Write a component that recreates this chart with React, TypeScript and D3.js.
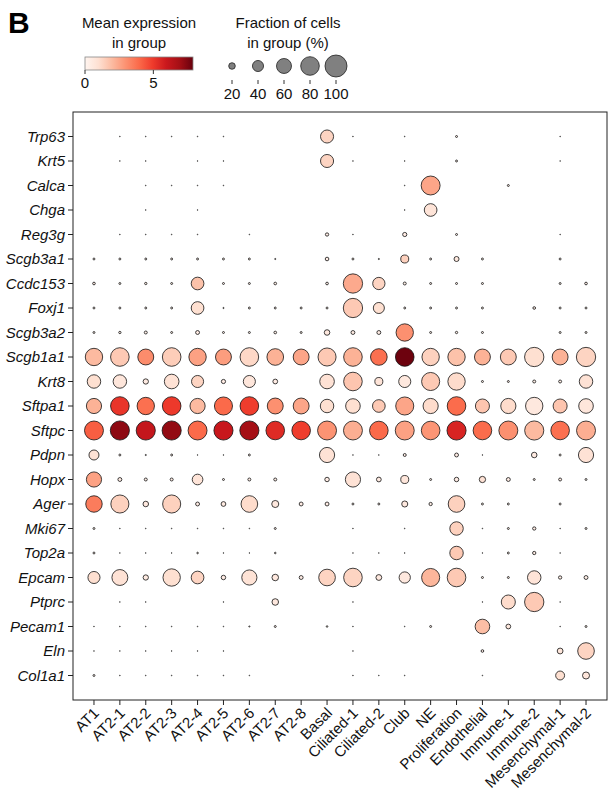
import React from "react";
import * as d3 from "d3";

const genes = [
  "Trp63", "Krt5", "Calca", "Chga", "Reg3g", "Scgb3a1", "Ccdc153", "Foxj1",
  "Scgb3a2", "Scgb1a1", "Krt8", "Sftpa1", "Sftpc", "Pdpn", "Hopx", "Ager",
  "Mki67", "Top2a", "Epcam", "Ptprc", "Pecam1", "Eln", "Col1a1",
];

const cellTypes = [
  "AT1", "AT2-1", "AT2-2", "AT2-3", "AT2-4", "AT2-5", "AT2-6", "AT2-7", "AT2-8",
  "Basal", "Ciliated-1", "Ciliated-2", "Club", "NE", "Proliferation",
  "Endothelial", "Immune-1", "Immune-2", "Mesenchymal-1", "Mesenchymal-2",
];

// Fraction of cells expressing (%), one row per gene, columns follow cellTypes
const fractionPct = [
  [0, 1, 1, 1, 1, 1, 0, 0, 0, 50, 1, 0, 1, 0, 4, 0, 0, 0, 1, 0],
  [0, 1, 1, 0, 1, 1, 0, 0, 0, 50, 1, 0, 1, 0, 4, 0, 0, 0, 1, 0],
  [0, 0, 1, 1, 1, 1, 0, 0, 0, 0, 0, 0, 1, 82, 0, 0, 4, 0, 0, 0],
  [0, 0, 1, 0, 1, 0, 0, 0, 0, 0, 0, 0, 1, 48, 0, 0, 0, 0, 0, 0],
  [0, 1, 1, 1, 1, 0, 1, 0, 0, 8, 1, 0, 11, 0, 4, 0, 0, 0, 1, 0],
  [4, 4, 4, 4, 4, 4, 4, 2, 0, 9, 4, 2, 26, 4, 14, 4, 0, 0, 4, 0],
  [6, 4, 5, 4, 48, 4, 4, 6, 0, 6, 84, 46, 7, 4, 4, 4, 0, 0, 4, 6],
  [4, 4, 4, 4, 48, 2, 4, 4, 4, 4, 84, 40, 4, 4, 4, 4, 0, 6, 4, 4],
  [4, 5, 7, 4, 10, 4, 4, 6, 4, 16, 10, 10, 73, 4, 5, 4, 0, 0, 4, 4],
  [73, 80, 65, 80, 73, 65, 80, 69, 65, 77, 80, 69, 80, 73, 73, 65, 65, 84, 65, 84],
  [52, 52, 15, 58, 45, 11, 45, 13, 0, 58, 80, 26, 45, 77, 73, 4, 4, 7, 7, 52],
  [61, 80, 73, 80, 61, 77, 80, 65, 65, 52, 58, 48, 77, 61, 80, 55, 61, 73, 55, 58],
  [82, 83, 83, 83, 82, 83, 83, 80, 80, 82, 82, 80, 82, 80, 83, 80, 82, 83, 80, 82],
  [35, 4, 2, 4, 1, 1, 4, 0, 0, 61, 1, 1, 7, 0, 10, 1, 0, 16, 4, 61],
  [61, 10, 7, 7, 38, 4, 7, 7, 0, 12, 61, 13, 26, 4, 12, 19, 10, 4, 7, 4],
  [68, 77, 16, 77, 10, 13, 69, 22, 10, 10, 4, 4, 18, 8, 69, 4, 4, 0, 4, 0],
  [4, 1, 1, 1, 1, 1, 1, 4, 0, 0, 1, 0, 1, 0, 52, 1, 4, 8, 1, 4],
  [4, 1, 1, 1, 3, 1, 1, 3, 0, 0, 1, 1, 1, 0, 52, 1, 4, 8, 1, 0],
  [45, 65, 15, 73, 48, 12, 61, 20, 10, 69, 80, 17, 41, 77, 80, 4, 4, 52, 8, 10],
  [0, 1, 1, 0, 0, 1, 0, 20, 0, 0, 1, 0, 0, 0, 0, 1, 55, 84, 1, 0],
  [1, 1, 1, 1, 1, 1, 2, 4, 0, 3, 1, 0, 1, 4, 0, 58, 13, 0, 1, 4],
  [1, 1, 1, 1, 1, 1, 0, 0, 0, 0, 1, 0, 0, 0, 0, 6, 0, 0, 17, 69],
  [4, 1, 1, 1, 1, 1, 1, 0, 0, 0, 1, 1, 1, 0, 0, 1, 0, 0, 30, 22],
];

// Mean expression in group, same layout
const meanExpr = [
  [0.3, 0.3, 0.3, 0.3, 0.3, 0.3, 0.3, 0.3, 0.3, 1.3, 0.3, 0.3, 0.3, 0.3, 0.3, 0.3, 0.3, 0.3, 0.3, 0.3],
  [0.3, 0.3, 0.3, 0.3, 0.3, 0.3, 0.3, 0.3, 0.3, 1.3, 0.3, 0.3, 0.3, 0.3, 0.3, 0.3, 0.3, 0.3, 0.3, 0.3],
  [0.3, 0.3, 0.3, 0.3, 0.3, 0.3, 0.3, 0.3, 0.3, 0.3, 0.3, 0.3, 0.3, 2.5, 0.3, 0.3, 0.3, 0.3, 0.3, 0.3],
  [0.3, 0.3, 0.3, 0.3, 0.3, 0.3, 0.3, 0.3, 0.3, 0.3, 0.3, 0.3, 0.3, 0.8, 0.3, 0.3, 0.3, 0.3, 0.3, 0.3],
  [0.3, 0.3, 0.3, 0.3, 0.3, 0.3, 0.3, 0.3, 0.3, 0.4, 0.3, 0.3, 0.4, 0.3, 0.3, 0.3, 0.3, 0.3, 0.3, 0.3],
  [0.3, 0.3, 0.3, 0.3, 0.3, 0.3, 0.3, 0.3, 0.3, 0.4, 0.3, 0.3, 1.4, 0.3, 0.6, 0.3, 0.3, 0.3, 0.3, 0.3],
  [0.4, 0.3, 0.3, 0.3, 1.8, 0.3, 0.3, 0.3, 0.3, 0.3, 2.4, 1.3, 0.3, 0.3, 0.3, 0.3, 0.3, 0.3, 0.3, 0.3],
  [0.3, 0.3, 0.3, 0.3, 1.0, 0.3, 0.3, 0.3, 0.3, 0.3, 1.6, 1.0, 0.3, 0.3, 0.3, 0.3, 0.3, 0.4, 0.3, 0.3],
  [0.3, 0.3, 0.3, 0.3, 0.4, 0.3, 0.3, 0.3, 0.3, 0.6, 0.4, 0.4, 3.0, 0.3, 0.3, 0.3, 0.3, 0.3, 0.3, 0.3],
  [2.0, 1.6, 3.1, 1.5, 2.6, 2.7, 1.2, 2.2, 2.5, 1.6, 2.2, 3.8, 7.8, 1.4, 1.8, 2.2, 1.6, 1.0, 2.2, 1.3],
  [1.0, 0.7, 0.5, 0.9, 1.3, 0.4, 0.7, 0.4, 0.3, 0.9, 1.7, 0.8, 0.6, 1.6, 1.1, 0.3, 0.3, 0.3, 0.3, 0.9],
  [2.2, 5.1, 3.8, 5.0, 2.0, 3.95, 4.9, 3.0, 2.5, 1.0, 1.0, 1.6, 2.5, 1.1, 3.9, 1.7, 1.1, 0.6, 1.7, 0.7],
  [4.2, 7.3, 6.1, 7.2, 3.95, 6.0, 6.9, 5.4, 4.9, 2.95, 2.3, 3.95, 2.6, 2.9, 5.6, 3.9, 3.0, 2.0, 3.8, 2.3],
  [0.9, 0.3, 0.3, 0.3, 0.3, 0.3, 0.3, 0.3, 0.3, 0.9, 0.3, 0.3, 0.4, 0.3, 0.4, 0.3, 0.3, 0.5, 0.3, 0.9],
  [2.6, 0.4, 0.4, 0.4, 0.8, 0.3, 0.4, 0.4, 0.3, 0.4, 0.9, 0.5, 0.7, 0.3, 0.4, 0.9, 0.4, 0.3, 0.4, 0.3],
  [3.5, 1.4, 0.6, 1.4, 0.4, 0.5, 1.1, 0.6, 0.4, 0.4, 0.3, 0.3, 0.6, 0.3, 1.4, 0.3, 0.3, 0.3, 0.3, 0.3],
  [0.3, 0.3, 0.3, 0.3, 0.3, 0.3, 0.3, 0.3, 0.3, 0.3, 0.3, 0.3, 0.3, 0.3, 1.4, 0.3, 0.3, 0.4, 0.3, 0.3],
  [0.3, 0.3, 0.3, 0.3, 0.3, 0.3, 0.3, 0.3, 0.3, 0.3, 0.3, 0.3, 0.3, 0.3, 1.6, 0.3, 0.3, 0.4, 0.3, 0.3],
  [1.0, 0.9, 0.5, 1.0, 1.3, 0.4, 0.85, 0.6, 0.4, 1.3, 1.3, 0.6, 0.6, 2.1, 1.6, 0.3, 0.3, 0.8, 0.3, 0.3],
  [0.3, 0.3, 0.3, 0.3, 0.3, 0.3, 0.3, 0.6, 0.3, 0.3, 0.3, 0.3, 0.3, 0.3, 0.3, 0.3, 1.1, 1.6, 0.3, 0.3],
  [0.3, 0.3, 0.3, 0.3, 0.3, 0.3, 0.3, 0.3, 0.3, 0.3, 0.3, 0.3, 0.3, 0.3, 0.3, 1.9, 0.6, 0.3, 0.3, 0.3],
  [0.3, 0.3, 0.3, 0.3, 0.3, 0.3, 0.3, 0.3, 0.3, 0.3, 0.3, 0.3, 0.3, 0.3, 0.3, 0.4, 0.3, 0.3, 0.7, 1.3],
  [0.3, 0.3, 0.3, 0.3, 0.3, 0.3, 0.3, 0.3, 0.3, 0.3, 0.3, 0.3, 0.3, 0.3, 0.3, 0.3, 0.3, 0.3, 1.0, 0.7],
];

const colorTicks = [0, 5];
const sizeLegendPct = [20, 40, 60, 80, 100];
const exprMax = 7.9;
const redsStops = [
  "#fff5f0", "#fee0d2", "#fcbba1", "#fc9272", "#fb6a4a",
  "#ef3b2c", "#cb181d", "#a50f15", "#67000d",
];

const FONT = "'Liberation Sans', Arial, Helvetica, sans-serif";

export default function App() {
  const W = 613;
  const H = 803;
  const frame = { left: 73, right: 607, top: 112, bottom: 700 };

  const x = d3
    .scalePoint<string>()
    .domain(cellTypes)
    .range([frame.left, frame.right])
    .padding(0.81);
  const y = d3
    .scalePoint<string>()
    .domain(genes)
    .range([frame.top, frame.bottom])
    .padding(1);
  const r = d3.scalePow().exponent(0.75).domain([0, 100]).range([0, 11]);
  const color = d3
    .scaleLinear<string>()
    .domain(redsStops.map((_, i) => (i / (redsStops.length - 1)) * exprMax))
    .range(redsStops)
    .interpolate(d3.interpolateRgb)
    .clamp(true);

  // colorbar
  const cb = { x0: 85, x1: 193, y0: 57, y1: 70 };
  const cbScale = d3.scaleLinear().domain([0, exprMax]).range([cb.x0, cb.x1]);

  // size legend
  const sx = d3
    .scalePoint<string>()
    .domain(sizeLegendPct.map(String))
    .range([232, 336]);

  const dots: JSX.Element[] = [];
  genes.forEach((g, gi) => {
    cellTypes.forEach((c, ci) => {
      const f = fractionPct[gi][ci];
      if (f <= 0) return;
      dots.push(
        <circle
          key={g + c}
          cx={x(c)}
          cy={y(g)}
          r={r(f)}
          fill={color(meanExpr[gi][ci])}
          stroke="#111"
          strokeWidth={0.8}
        />
      );
    });
  });

  return (
    <svg
      width={W}
      height={H}
      style={{ position: "absolute", left: 0, top: 0, background: "#fff" }}
      fontFamily={FONT}
    >
      <rect width={W} height={H} fill="#fff" />
      <text x={8} y={33} fontSize={30} fontWeight="bold" fill="#000">
        B
      </text>

      {/* Color legend */}
      <text x={139} y={28} fontSize={15} textAnchor="middle" fill="#111">
        Mean expression
      </text>
      <text x={139} y={48} fontSize={15} textAnchor="middle" fill="#111">
        in group
      </text>
      <defs>
        <linearGradient id="redsGrad" x1="0" x2="1" y1="0" y2="0">
          {redsStops.map((c, i) => (
            <stop key={i} offset={i / (redsStops.length - 1)} stopColor={c} />
          ))}
        </linearGradient>
      </defs>
      <rect
        x={cb.x0}
        y={cb.y0}
        width={cb.x1 - cb.x0}
        height={cb.y1 - cb.y0}
        fill="url(#redsGrad)"
        stroke="#888"
        strokeWidth={0.8}
      />
      {colorTicks.map((t) => (
        <g key={t}>
          <line
            x1={cbScale(t)}
            x2={cbScale(t)}
            y1={cb.y1}
            y2={cb.y1 + 4}
            stroke="#333"
            strokeWidth={1}
          />
          <text
            x={cbScale(t)}
            y={88}
            fontSize={15}
            textAnchor="middle"
            fill="#111"
          >
            {t}
          </text>
        </g>
      ))}

      {/* Size legend */}
      <text x={288} y={28} fontSize={15} textAnchor="middle" fill="#111">
        Fraction of cells
      </text>
      <text x={288} y={48} fontSize={15} textAnchor="middle" fill="#111">
        in group (%)
      </text>
      {sizeLegendPct.map((p) => (
        <g key={p}>
          <circle
            cx={sx(String(p))}
            cy={66}
            r={r(p)}
            fill="#808080"
            stroke="#222"
            strokeWidth={0.8}
          />
          <line
            x1={sx(String(p))}
            x2={sx(String(p))}
            y1={80}
            y2={84}
            stroke="#333"
            strokeWidth={1}
          />
          <text
            x={sx(String(p))}
            y={99}
            fontSize={15}
            textAnchor="middle"
            fill="#111"
          >
            {p}
          </text>
        </g>
      ))}

      {/* Frame */}
      <rect
        x={frame.left}
        y={frame.top}
        width={frame.right - frame.left}
        height={frame.bottom - frame.top}
        fill="none"
        stroke="#222"
        strokeWidth={1}
      />

      {/* Y axis */}
      {genes.map((g) => (
        <g key={g}>
          <line
            x1={frame.left - 5}
            x2={frame.left}
            y1={y(g)}
            y2={y(g)}
            stroke="#222"
            strokeWidth={1}
          />
          <text
            x={frame.left - 8}
            y={y(g)}
            dy="0.35em"
            fontSize={15}
            fontStyle="italic"
            textAnchor="end"
            fill="#111"
          >
            {g}
          </text>
        </g>
      ))}

      {/* X axis */}
      {cellTypes.map((c) => (
        <g key={c}>
          <line
            x1={x(c)}
            x2={x(c)}
            y1={frame.bottom}
            y2={frame.bottom + 5}
            stroke="#222"
            strokeWidth={1}
          />
          <text
            transform={`translate(${(x(c) as number) + 6},${frame.bottom + 14}) rotate(-45)`}
            fontSize={15}
            textAnchor="end"
            fill="#111"
          >
            {c}
          </text>
        </g>
      ))}

      {dots}
    </svg>
  );
}
